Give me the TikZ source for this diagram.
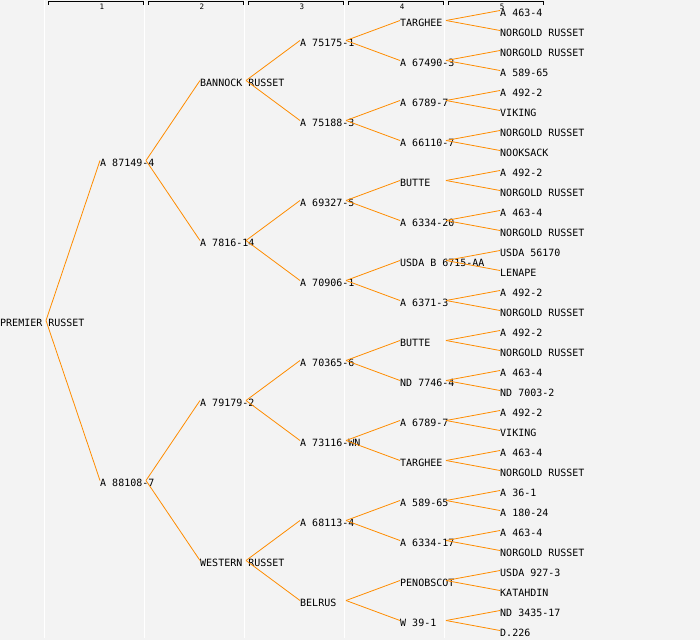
\documentclass[tikz,border=0pt]{standalone}
\usepackage{fontspec}
\setmonofont{DejaVu Sans Mono}
\definecolor{bgc}{HTML}{F3F3F3}
\definecolor{linkorange}{HTML}{FF8C00}
\begin{document}
\begin{tikzpicture}[x=1pt,y=-1pt,
  lbl/.style={anchor=west,inner sep=0pt,font=\ttfamily\fontsize{10}{10}\selectfont,text height=7pt,text depth=0pt},
  link/.style={draw=linkorange,line width=0.8pt},
  sep/.style={draw=white,line width=1pt},
  bracket/.style={draw=black,line width=0.9pt},
  colnum/.style={inner sep=0pt,font=\ttfamily\fontsize{7.5}{7.5}\selectfont}]
\fill[bgc] (0,0) rectangle (700,640);
\useasboundingbox (0,0) rectangle (700,640);
% column separators
\foreach \x in {44.5,144.5,244.5,344.5,444.5}{\draw[sep] (\x,0) -- (\x,638);}
% header brackets and numbers
\foreach \k in {1,...,5}{
  \draw[bracket] (100*\k-52,4.5) -- (100*\k-52,1.5) -- (100*\k+43,1.5) -- (100*\k+43,4.5);
  \node[colnum] (h\k) at (100*\k+2,6.5) {\k};
}
% column 0
\node[lbl] (c0-1) at (0,322.5) {PREMIER RUSSET};
% column 1
\foreach \t [count=\i] in {A 87149-4,A 88108-7}
  {\node[lbl] (c1-\i) at (100,320*\i-160+2.5) {\t};}
% column 2
\foreach \t [count=\i] in {BANNOCK RUSSET,A 7816-14,A 79179-2,WESTERN RUSSET}
  {\node[lbl] (c2-\i) at (200,160*\i-80+2.5) {\t};}
% column 3
\foreach \t [count=\i] in {A 75175-1,A 75188-3,A 69327-5,A 70906-1,A 70365-6,A 73116-WN,A 68113-4,BELRUS}
  {\node[lbl] (c3-\i) at (300,80*\i-40+2.5) {\t};}
% column 4
\foreach \t [count=\i] in {TARGHEE,A 67490-3,A 6789-7,A 66110-7,BUTTE,A 6334-20,USDA B 6715-AA,A 6371-3,BUTTE,ND 7746-4,A 6789-7,TARGHEE,A 589-65,A 6334-17,PENOBSCOT,W 39-1}
  {\node[lbl] (c4-\i) at (400,40*\i-20+2.5) {\t};}
% column 5
\foreach \t [count=\i] in {A 463-4,NORGOLD RUSSET,NORGOLD RUSSET,A 589-65,A 492-2,VIKING,NORGOLD RUSSET,NOOKSACK,A 492-2,NORGOLD RUSSET,A 463-4,NORGOLD RUSSET,USDA 56170,LENAPE,A 492-2,NORGOLD RUSSET,A 492-2,NORGOLD RUSSET,A 463-4,ND 7003-2,A 492-2,VIKING,A 463-4,NORGOLD RUSSET,A 36-1,A 180-24,A 463-4,NORGOLD RUSSET,USDA 927-3,KATAHDIN,ND 3435-17,D.226}
  {\node[lbl] (c5-\i) at (500,20*\i-10+2.5) {\t};}
% connectors
\foreach \k in {0,...,4}{
  \pgfmathtruncatemacro\n{2^\k}
  \pgfmathtruncatemacro\kk{\k+1}
  \foreach \i in {1,...,\n}{
    \pgfmathtruncatemacro\a{2*\i-1}
    \pgfmathtruncatemacro\b{2*\i}
    \draw[link] ([xshift=46pt,yshift=2pt]c\k-\i.west) -- ([yshift=2pt]c\kk-\a.west);
    \draw[link] ([xshift=46pt,yshift=2pt]c\k-\i.west) -- ([yshift=2pt]c\kk-\b.west);
  }
}
\end{tikzpicture}
\end{document}
